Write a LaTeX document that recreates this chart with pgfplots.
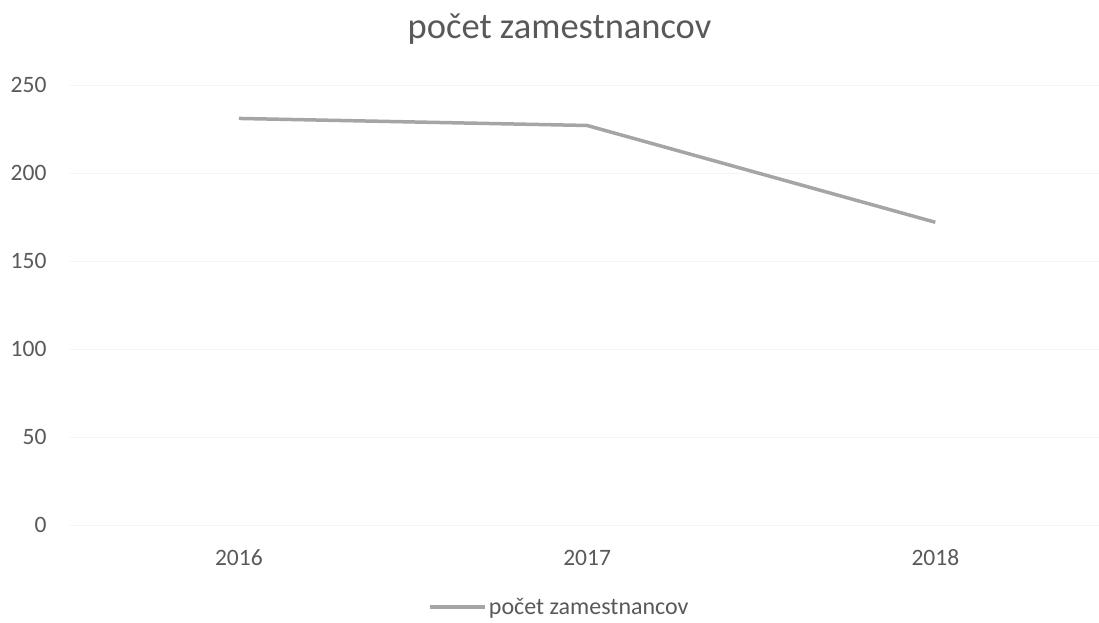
\documentclass[border=0pt]{standalone}
\usepackage{fontspec}
\setmainfont{Carlito}
\usepackage{pgfplots}
\pgfplotsset{compat=1.18}
\definecolor{txt}{HTML}{595959}
\definecolor{ln}{HTML}{A5A5A5}
\definecolor{grd}{HTML}{F5F5F5}
\begin{document}
\begin{tikzpicture}
\useasboundingbox (-70pt,-97pt) rectangle (1029pt,525pt);
\begin{axis}[
  at={(0,0)}, anchor=south west,
  scale only axis, width=1029pt, height=440pt,
  xmin=-0.485, xmax=2.47, ymin=0, ymax=250,
  xtick={0,1,2}, xticklabels={2016,2017,2018},
  ytick={0,50,100,150,200,250},
  axis line style={draw=none},
  major tick length=0pt,
  ymajorgrids, grid style={grd, line width=1pt},
  /pgf/number format/assume math mode=true,
  tick label style={font=\fontsize{23.5}{28}\selectfont, text=txt},
  xticklabel style={anchor=base, yshift=-40pt},
  yticklabel style={xshift=-20pt},
  title={počet zamestnancov},
  title style={at={(0.5,1)}, anchor=center, yshift=50pt, xshift=-25pt, font=\fontsize{36.5}{42}\selectfont, text=txt},
  legend style={at={(0.5,0)}, anchor=center, yshift=-82pt, xshift=-25pt, draw=none, fill=none,
    font=\fontsize{24}{28}\selectfont, text=txt, legend cell align=left},
  legend image code/.code={\draw[#1, line width=3.5pt] (0pt,0pt) -- (55pt,0pt);},
]
\addplot[ln, line width=3.5pt, no marks] coordinates {(0,231) (1,227) (2,172)};
\addlegendentry{počet zamestnancov}
\end{axis}
\end{tikzpicture}
\end{document}
